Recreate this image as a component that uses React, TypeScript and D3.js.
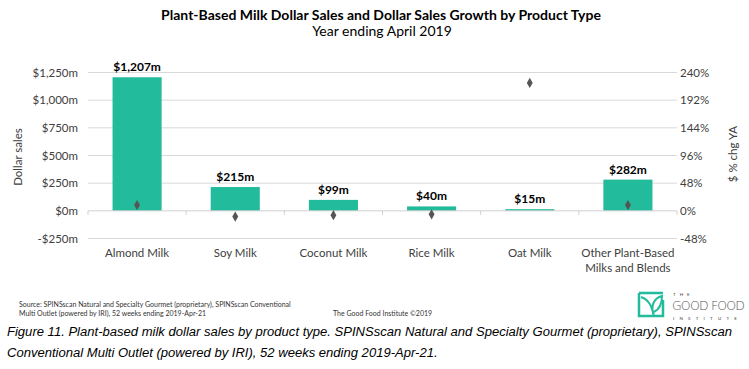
import React, { useEffect, useRef } from 'react';
import * as d3 from 'd3';

const categories = ['Almond Milk', 'Soy Milk', 'Coconut Milk', 'Rice Milk', 'Oat Milk', 'Other Plant-Based|Milks and Blends'];
const sales = [1207, 215, 99, 40, 15, 282];
const salesLabels = ['$1,207m', '$215m', '$99m', '$40m', '$15m', '$282m'];
const growth = [10, -10, -7.5, -6, 222, 10];
const leftTicks = [-250, 0, 250, 500, 750, 1000, 1250];
const rightTicks = [-48, 0, 48, 96, 144, 192, 240];

const FONT = 'Lato, "Open Sans", sans-serif';

const App = () => {
  const ref = useRef<SVGSVGElement>(null);

  useEffect(() => {
    document.body.style.margin = '0';
    const svg = d3.select(ref.current);
    svg.selectAll('*').remove();

    const x = d3.scaleBand().domain(categories).range([88, 677]).paddingInner(0.5).paddingOuter(0.25);
    const y = d3.scaleLinear().domain([-250, 1250]).range([238.5, 72.5]);
    const y2 = d3.scaleLinear().domain([-48, 240]).range([238.5, 72.5]);

    // titles
    svg.append('text').attr('x', 381).attr('y', 20).attr('text-anchor', 'middle')
      .attr('font-family', FONT).attr('font-weight', 'bold').attr('font-size', 14).attr('fill', '#000')
      .text('Plant-Based Milk Dollar Sales and Dollar Sales Growth by Product Type');
    svg.append('text').attr('x', 382).attr('y', 36).attr('text-anchor', 'middle')
      .attr('font-family', FONT).attr('font-size', 14).attr('fill', '#000')
      .text('Year ending April 2019');

    // gridlines
    svg.append('g').selectAll('line').data(leftTicks.filter(d => d !== 0)).enter().append('line')
      .attr('x1', 88).attr('x2', 677).attr('y1', d => y(d)).attr('y2', d => y(d))
      .attr('stroke', '#d9d9d9').attr('stroke-width', 1);

    // left axis labels
    svg.append('g').selectAll('text').data(leftTicks).enter().append('text')
      .attr('x', 78).attr('y', d => y(d) + 4).attr('text-anchor', 'end')
      .attr('font-family', FONT).attr('font-size', 11.5).attr('fill', '#404040')
      .text(d => (d < 0 ? '-$' : '$') + d3.format(',')(Math.abs(d)) + 'm');

    // right axis labels
    svg.append('g').selectAll('text').data(rightTicks).enter().append('text')
      .attr('x', 680).attr('y', d => y2(d) + 4).attr('text-anchor', 'start')
      .attr('font-family', FONT).attr('font-size', 11.5).attr('fill', '#404040')
      .text(d => d + '%');

    // axis titles
    svg.append('text').attr('transform', 'translate(22,157) rotate(-90)').attr('text-anchor', 'middle')
      .attr('font-family', FONT).attr('font-size', 11.5).attr('fill', '#404040').text('Dollar sales');
    svg.append('text').attr('transform', 'translate(737,154) rotate(-90)').attr('text-anchor', 'middle')
      .attr('font-family', FONT).attr('font-size', 11.5).attr('fill', '#404040').text('$ % chg YA');

    // bars
    svg.append('g').selectAll('rect').data(sales).enter().append('rect')
      .attr('x', (d, i) => x(categories[i])!)
      .attr('width', x.bandwidth())
      .attr('y', d => y(d))
      .attr('height', d => y(0) - y(d))
      .attr('fill', '#22BB9C');

    // zero line and ticks
    svg.append('line').attr('x1', 88).attr('x2', 677).attr('y1', y(0)).attr('y2', y(0))
      .attr('stroke', '#d0d0d0').attr('stroke-width', 1);
    const step = x.step();
    const bounds = d3.range(categories.length + 1).map(i => 88 + i * step);
    svg.append('g').selectAll('line').data(bounds).enter().append('line')
      .attr('x1', d => d).attr('x2', d => d).attr('y1', y(0)).attr('y2', y(0) + 4)
      .attr('stroke', '#d0d0d0');

    // bar labels
    svg.append('g').selectAll('text').data(sales).enter().append('text')
      .attr('x', (d, i) => x(categories[i])! + x.bandwidth() / 2)
      .attr('y', d => y(d) - 6)
      .attr('text-anchor', 'middle')
      .attr('font-family', FONT).attr('font-weight', 'bold').attr('font-size', 12).attr('fill', '#000')
      .text((d, i) => salesLabels[i]);

    // growth diamonds
    const sym = d3.symbol().type(d3.symbolDiamond).size(30);
    svg.append('g').selectAll('path').data(growth).enter().append('path')
      .attr('d', sym as any)
      .attr('transform', (d, i) => `translate(${x(categories[i])! + x.bandwidth() / 2},${y2(d)})`)
      .attr('fill', '#555');

    // category labels
    const cat = svg.append('g').selectAll('text').data(categories).enter().append('text')
      .attr('x', d => x(d)! + x.bandwidth() / 2)
      .attr('y', 257)
      .attr('text-anchor', 'middle')
      .attr('font-family', FONT).attr('font-size', 11.5).attr('fill', '#404040');
    cat.each(function (d) {
      const parts = d.split('|');
      const t = d3.select(this);
      parts.forEach((p, j) => {
        t.append('tspan').attr('x', x(d)! + x.bandwidth() / 2).attr('dy', j === 0 ? 0 : 15).text(p);
      });
    });

    // source notes
    svg.append('text').attr('x', 19).attr('y', 307).attr('font-family', FONT).attr('font-size', 7).attr('fill', '#333')
      .text('Source: SPINSscan Natural and Specialty Gourmet (proprietary), SPINSscan Conventional');
    svg.append('text').attr('x', 19).attr('y', 316).attr('font-family', FONT).attr('font-size', 7).attr('fill', '#333')
      .text('Multi Outlet (powered by IRI), 52 weeks ending 2019-Apr-21');
    svg.append('text').attr('x', 333).attr('y', 316).attr('font-family', FONT).attr('font-size', 7).attr('fill', '#333')
      .text('The Good Food Institute ©2019');

    // logo
    const logo = svg.append('g');
    logo.append('path').attr('d', 'M639,293 L663,293 M639,293 L639,316 L663,316 L663,300')
      .attr('fill', 'none').attr('stroke', '#22BB9C').attr('stroke-width', 2.5);
    logo.append('path').attr('d', 'M641,297 C650,300 652,308 654,316 M654,316 C650,306 654,298 662,296 C662,306 658,310 654,312')
      .attr('fill', 'none').attr('stroke', '#22BB9C').attr('stroke-width', 2);
    logo.append('text').attr('x', 673).attr('y', 296).attr('font-family', FONT).attr('font-size', 4.5)
      .attr('letter-spacing', 4).attr('fill', '#444').text('THE');
    logo.append('text').attr('x', 672).attr('y', 310).attr('font-family', '"DejaVu Sans", sans-serif').attr('font-size', 12.5)
      .attr('fill', '#555').attr('font-weight', 300).attr('textLength', 73).text('GOOD FOOD');
    logo.append('text').attr('x', 673).attr('y', 320).attr('font-family', FONT).attr('font-size', 4.5)
      .attr('letter-spacing', 5.2).attr('fill', '#444').text('INSTITUTE');

    // caption
    svg.append('text').attr('x', 7).attr('y', 336).attr('font-family', '"Liberation Sans", Arial, sans-serif')
      .attr('font-style', 'italic').attr('font-size', 13.05).attr('fill', '#000')
      .text('Figure 11. Plant-based milk dollar sales by product type. SPINSscan Natural and Specialty Gourmet (proprietary), SPINSscan');
    svg.append('text').attr('x', 7).attr('y', 357).attr('font-family', '"Liberation Sans", Arial, sans-serif')
      .attr('font-style', 'italic').attr('font-size', 13.05).attr('fill', '#000')
      .text('Conventional Multi Outlet (powered by IRI), 52 weeks ending 2019-Apr-21.');
  }, []);

  return <svg ref={ref} width={749} height={369} style={{ display: 'block', background: '#fff' }} />;
};

export default App;
